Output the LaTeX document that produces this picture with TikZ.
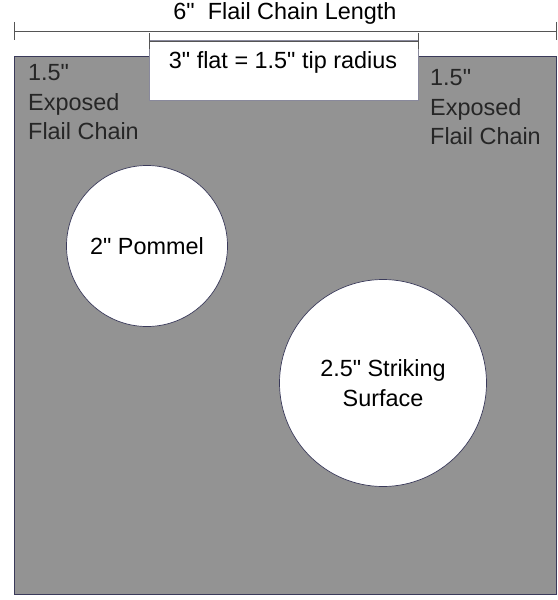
\documentclass[tikz,border=0pt]{standalone}
\usepackage{fontspec}
\setmainfont{Liberation Sans}[Ligatures=TeXOff]
\definecolor{panel}{HTML}{939393}
\definecolor{edge}{HTML}{3A3A5A}
\definecolor{dim}{HTML}{555555}
\newcommand{\qq}{"}
\begin{document}
\begin{tikzpicture}[x=1bp,y=-1bp,
  lbl/.style={font=\fontsize{23.5}{30}\selectfont, inner sep=0pt},
  dimline/.style={draw=dim, line width=0.9bp},
  disc/.style={circle, fill=white, draw=edge, line width=0.7bp, inner sep=0pt, align=center, font=\fontsize{23.5}{30}\selectfont}]
\useasboundingbox (0,0) rectangle (558,600);
% main panel
\path[fill=panel, draw=edge, line width=0.9bp] (14,56) rectangle (556,594);
% white flat box
\path[fill=white, draw=edge!60, line width=0.6bp] (149,40) rectangle (418,100);
% dimension lines
\coordinate (aL) at (14,31);
\coordinate (aR) at (556,31);
\draw[dimline] (aL) -- (aR);
\draw[dimline] (14,22) -- (14,40);
\draw[dimline] (556,22) -- (556,40);
\coordinate (bL) at (149,41);
\coordinate (bR) at (418,41);
\draw[dimline] (bL) -- (bR);
\draw[dimline] (149,33) -- (149,49);
\draw[dimline] (418,33) -- (418,49);
% labels
\node[lbl, anchor=base] (title) at (285,20) {6\qq\ \ Flail Chain Length};
\node[lbl, anchor=base] (flat) at (283,69) {3\qq\ flat = 1.5\qq\ tip radius};
\node[lbl, anchor=base west, align=left, text=black!85] (leftlbl) at (28,140) {1.5\qq\\Exposed\\Flail Chain};
\node[lbl, anchor=base west, align=left, text=black!85] (rightlbl) at (430,145) {1.5\qq\\Exposed\\Flail Chain};
% circles
\node[disc, minimum size=161bp] (pommel) at (147,246) {2\qq\ Pommel};
\node[disc, minimum size=207bp] (strike) at (383,383) {2.5\qq\ Striking\\Surface};
\end{tikzpicture}
\end{document}
